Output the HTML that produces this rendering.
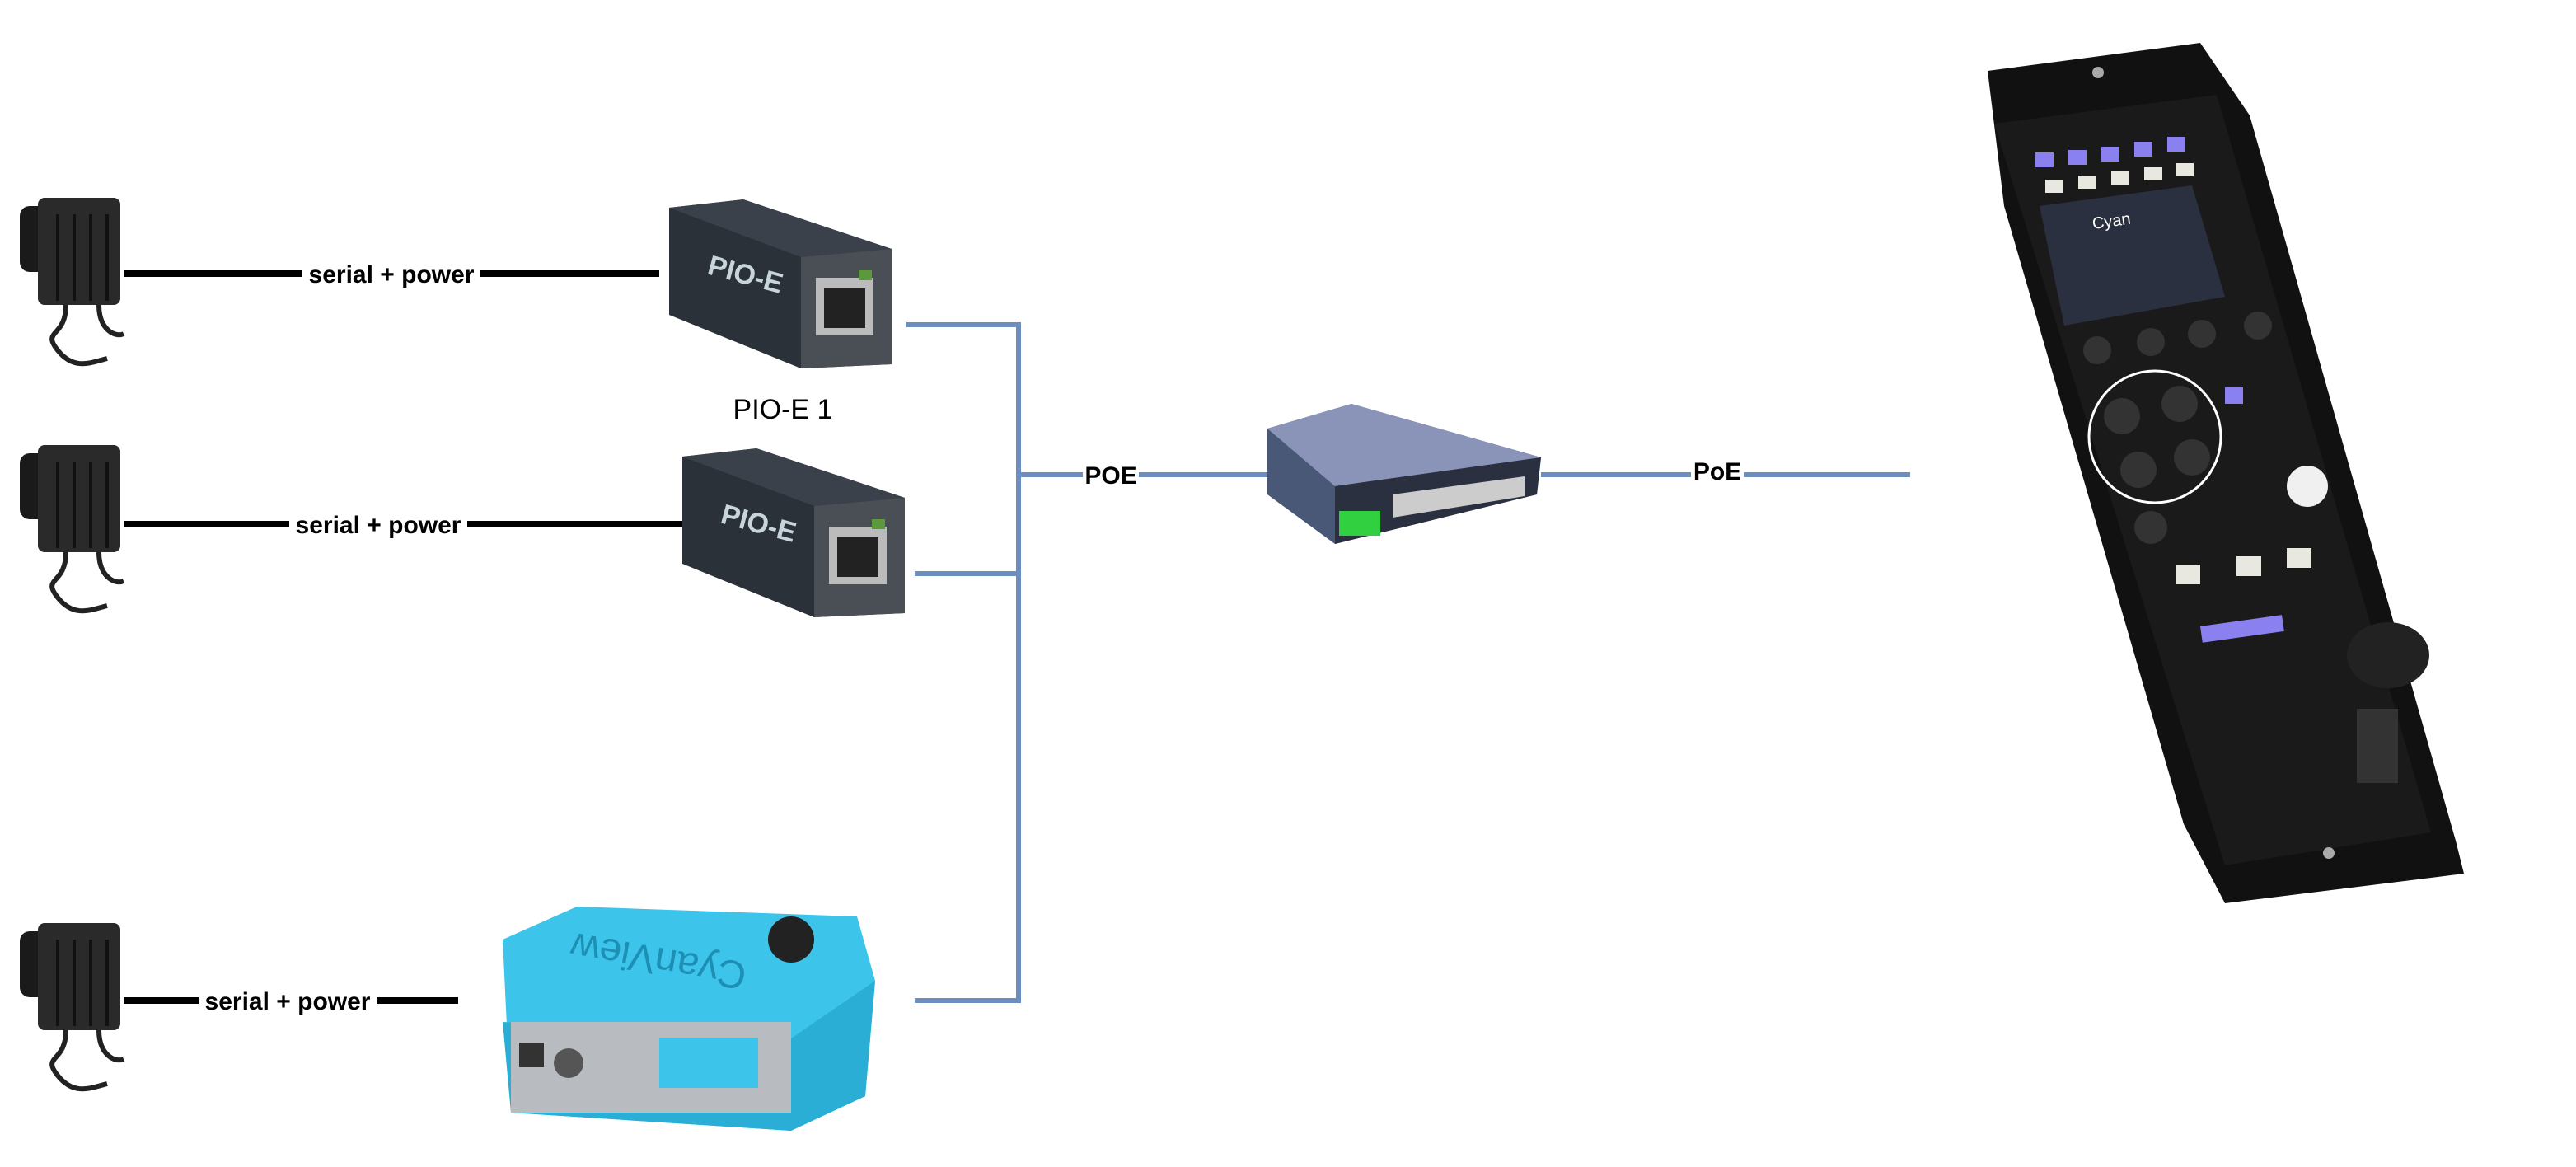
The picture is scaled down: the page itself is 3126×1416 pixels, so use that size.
<!DOCTYPE html>
<html><head><meta charset="utf-8"><style>
html,body{margin:0;padding:0;background:#fff;}
svg{display:block;}
text{font-family:"Liberation Sans",sans-serif;}
</style></head><body>
<svg width="3126" height="1416" viewBox="0 0 3126 1416" xmlns="http://www.w3.org/2000/svg">
<defs>
<g id="cam">
  <rect x="14" y="10" width="40" height="80" rx="12" fill="#1a1a1a"/>
  <rect x="36" y="0" width="100" height="130" rx="8" fill="#2a2a2a"/>
  <g stroke="#111" stroke-width="4">
    <line x1="60" y1="20" x2="60" y2="125"/><line x1="80" y1="20" x2="80" y2="125"/>
    <line x1="100" y1="20" x2="100" y2="125"/><line x1="120" y1="20" x2="120" y2="125"/>
  </g>
  <path d="M70 130 C70 170 40 160 60 185 C80 210 100 200 120 195" stroke="#222" stroke-width="6" fill="none"/>
  <path d="M110 130 C110 160 130 170 140 165" stroke="#222" stroke-width="6" fill="none"/>
</g>
<g id="pio">
  <polygon points="0,10 90,0 270,60 270,200 160,205 0,140" fill="#2b3138"/>
  <polygon points="0,10 90,0 270,60 160,70" fill="#3a414a"/>
  <polygon points="160,70 270,60 270,200 160,205" fill="#4a4f55"/>
  <rect x="178" y="95" width="70" height="70" fill="#bbb"/>
  <rect x="188" y="108" width="50" height="48" fill="#222"/>
  <rect x="230" y="86" width="16" height="12" fill="#5a9a3a"/>
  <text x="45" y="90" fill="#c8d4dc" font-size="34" font-weight="bold" transform="rotate(15 45 90)">PIO-E</text>
</g>
</defs>

<use href="#cam" x="10" y="240"/>
<use href="#cam" x="10" y="540"/>
<use href="#cam" x="10" y="1120"/>

<g stroke="#000" stroke-width="8">
  <line x1="150" y1="332" x2="800" y2="332"/>
  <line x1="150" y1="636" x2="830" y2="636"/>
  <line x1="150" y1="1214" x2="556" y2="1214"/>
</g>
<g font-size="30" font-weight="bold" text-anchor="middle">
  <rect x="367" y="316" width="216" height="32" fill="#fff"/>
  <text x="475" y="343">serial + power</text>
  <rect x="351" y="620" width="216" height="32" fill="#fff"/>
  <text x="459" y="647">serial + power</text>
  <rect x="241" y="1198" width="216" height="32" fill="#fff"/>
  <text x="349" y="1225">serial + power</text>
</g>

<use href="#pio" x="812" y="242"/>
<use href="#pio" x="828" y="544"/>
<text x="950" y="508" font-size="34" text-anchor="middle" fill="#000">PIO-E 1</text>

<g>
  <polygon points="610,1140 700,1100 1040,1112 1062,1190 1050,1330 960,1372 620,1350" fill="#3dc4ea"/>
  <polygon points="610,1240 960,1260 1062,1190 1050,1330 960,1372 620,1350" fill="#2aaed6"/>
  <rect x="620" y="1240" width="340" height="110" fill="#b8bcc0"/>
  <rect x="800" y="1260" width="120" height="60" fill="#3dc4ea"/>
  <rect x="630" y="1265" width="30" height="30" fill="#333"/>
  <circle cx="690" cy="1290" r="18" fill="#555"/>
  <circle cx="960" cy="1140" r="28" fill="#222"/>
  <text x="800" y="1170" font-size="48" fill="#1d8fb5" text-anchor="middle" transform="rotate(190 800 1160)">CyanView</text>
</g>

<g stroke="#6c8ebf" stroke-width="6" fill="none">
  <line x1="1100" y1="394" x2="1236" y2="394"/>
  <line x1="1110" y1="696" x2="1236" y2="696"/>
  <line x1="1110" y1="1214" x2="1236" y2="1214"/>
  <line x1="1236" y1="391" x2="1236" y2="1217"/>
  <line x1="1236" y1="576" x2="1538" y2="576"/>
  <line x1="1870" y1="576" x2="2318" y2="576"/>
</g>
<g font-size="30" font-weight="bold" text-anchor="middle">
  <rect x="1314" y="560" width="68" height="32" fill="#fff"/>
  <text x="1348" y="587">POE</text>
  <rect x="2052" y="558" width="64" height="32" fill="#fff"/>
  <text x="2084" y="582">PoE</text>
</g>

<g>
  <polygon points="1538,520 1640,490 1870,555 1865,600 1620,660 1538,600" fill="#4a5878"/>
  <polygon points="1538,520 1640,490 1870,555 1620,590" fill="#8a94b8"/>
  <polygon points="1620,590 1870,555 1865,600 1620,660" fill="#2a3040"/>
  <rect x="1625" y="620" width="50" height="30" fill="#30d040"/>
  <polygon points="1690,600 1850,578 1850,602 1690,628" fill="#ccc"/>
</g>

<g>
  <polygon points="2412,86 2670,52 2730,140 2980,1020 2990,1060 2700,1096 2650,1000 2432,250" fill="#111"/>
  <polygon points="2420,150 2690,115 2950,1010 2700,1050" fill="#1a1a1a"/>
  <circle cx="2546" cy="88" r="7" fill="#aaa"/>
  <circle cx="2826" cy="1035" r="7" fill="#aaa"/>
  <polygon points="2475,250 2660,225 2700,360 2505,395" fill="#2a3040"/>
  <text x="2540" y="278" font-size="20" fill="#fff" transform="rotate(-8 2540 278)">Cyan</text>
  <g fill="#8a80f0">
    <rect x="2470" y="185" width="22" height="18"/><rect x="2510" y="182" width="22" height="18"/>
    <rect x="2550" y="178" width="22" height="18"/><rect x="2590" y="172" width="22" height="18"/>
    <rect x="2630" y="166" width="22" height="18"/>
    <rect x="2700" y="470" width="22" height="20"/>
    <rect x="2670" y="760" width="100" height="20" transform="rotate(-8 2670 760)"/>
  </g>
  <g fill="#e8e8e0">
    <rect x="2482" y="218" width="22" height="16"/><rect x="2522" y="213" width="22" height="16"/>
    <rect x="2562" y="208" width="22" height="16"/><rect x="2602" y="203" width="22" height="16"/>
    <rect x="2640" y="198" width="22" height="16"/>
    <rect x="2640" y="685" width="30" height="24"/><rect x="2714" y="675" width="30" height="24"/>
    <rect x="2775" y="665" width="30" height="24"/>
  </g>
  <g fill="#333">
    <circle cx="2545" cy="425" r="17"/><circle cx="2610" cy="415" r="17"/>
    <circle cx="2672" cy="405" r="17"/><circle cx="2740" cy="395" r="17"/>
    <circle cx="2575" cy="505" r="22"/><circle cx="2645" cy="490" r="22"/>
    <circle cx="2595" cy="570" r="22"/><circle cx="2660" cy="555" r="22"/>
    <circle cx="2610" cy="640" r="20"/>
  </g>
  <circle cx="2615" cy="530" r="80" fill="none" stroke="#fff" stroke-width="3"/>
  <circle cx="2800" cy="590" r="25" fill="#f0f0f0"/>
  <ellipse cx="2898" cy="795" rx="50" ry="40" fill="#222"/>
  <rect x="2860" y="860" width="50" height="90" fill="#333"/>
</g>
</svg>
</body></html>
